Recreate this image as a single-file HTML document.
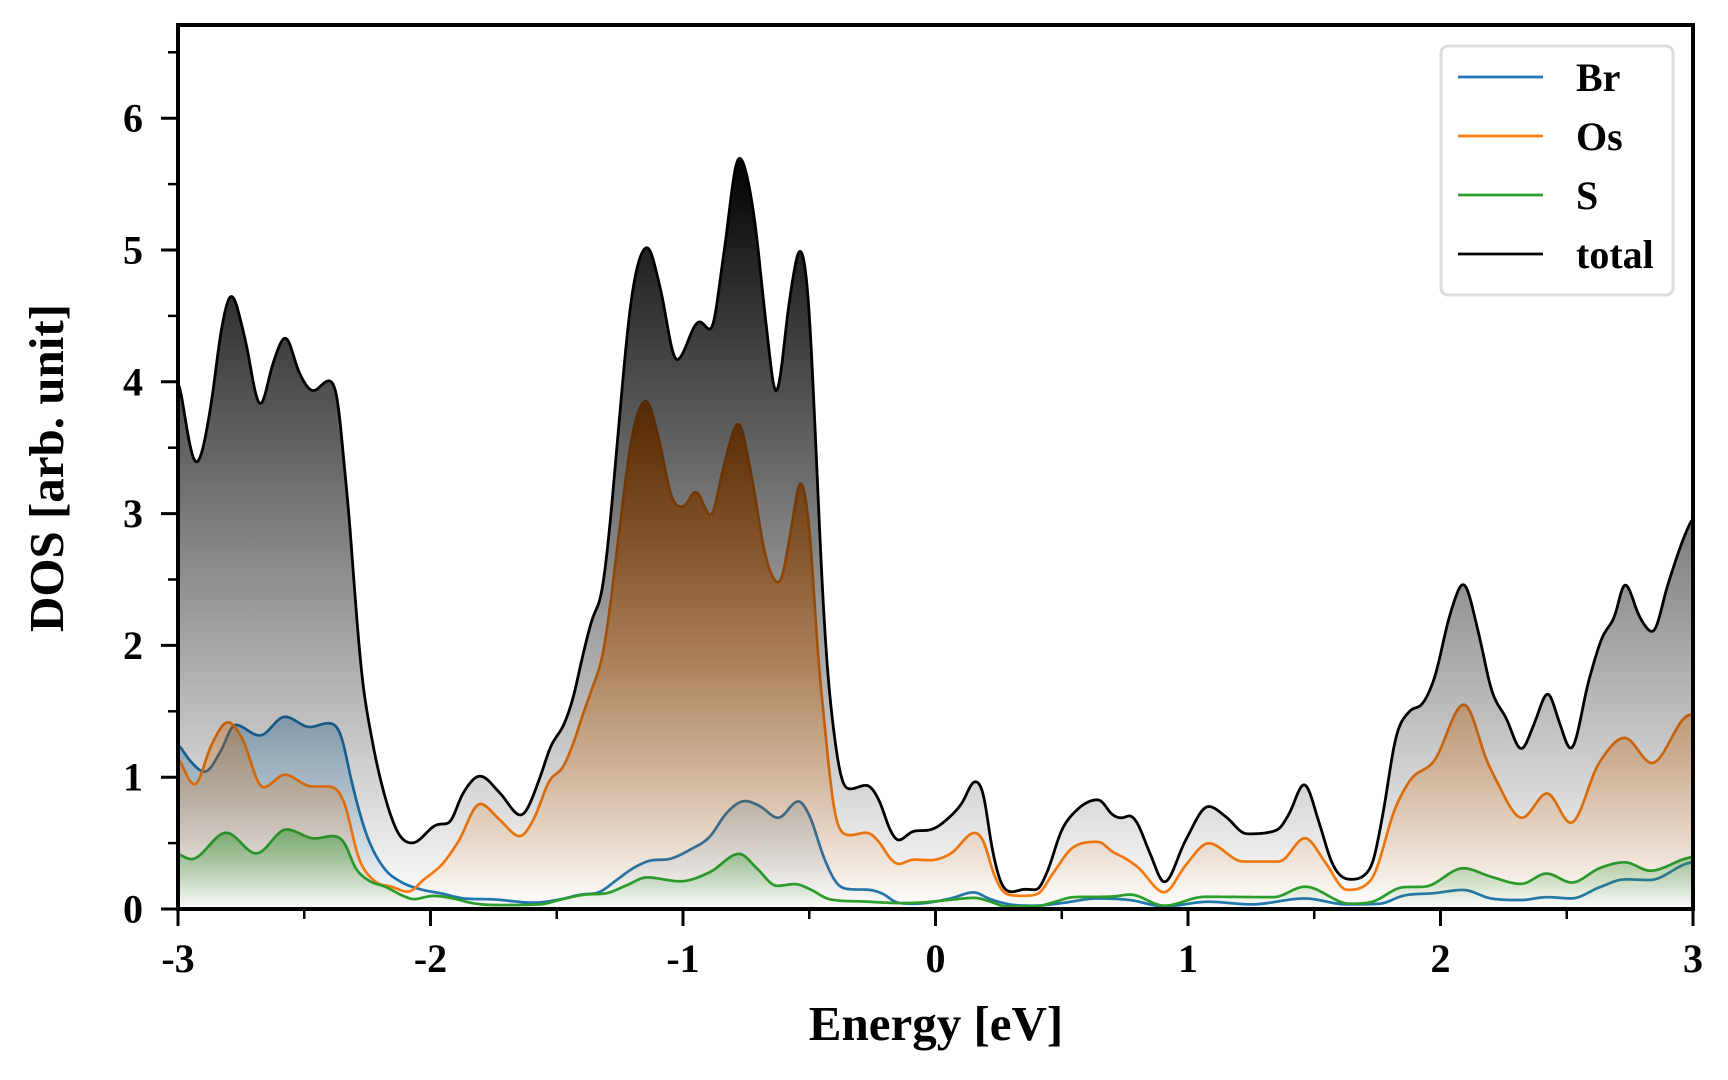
<!DOCTYPE html>
<html>
<head>
<meta charset="utf-8">
<style>
html,body{margin:0;padding:0;background:#fff;}
svg{display:block;}
text{font-family:"Liberation Serif","Times New Roman",serif;font-weight:bold;fill:#000;}
</style>
</head>
<body>
<svg id="chart" width="1728" height="1080" viewBox="0 0 1728 1080" xmlns="http://www.w3.org/2000/svg">
<defs>
  <clipPath id="axclip"><rect x="178" y="25" width="1515" height="884"/></clipPath>
  <linearGradient id="gBr" gradientUnits="userSpaceOnUse" x1="0" y1="909" x2="0" y2="381.8">
    <stop offset="0" stop-color="#1f77b4" stop-opacity="0"/>
    <stop offset="1" stop-color="#1f77b4" stop-opacity="1"/>
  </linearGradient>
  <linearGradient id="gOs" gradientUnits="userSpaceOnUse" x1="0" y1="909" x2="0" y2="400.3">
    <stop offset="0" stop-color="#ff7f0e" stop-opacity="0"/>
    <stop offset="1" stop-color="#ff7f0e" stop-opacity="1"/>
  </linearGradient>
  <linearGradient id="gS" gradientUnits="userSpaceOnUse" x1="0" y1="909" x2="0" y2="750.8">
    <stop offset="0" stop-color="#2ca02c" stop-opacity="0"/>
    <stop offset="1" stop-color="#2ca02c" stop-opacity="1"/>
  </linearGradient>
  <linearGradient id="gT" gradientUnits="userSpaceOnUse" x1="0" y1="909" x2="0" y2="155.1">
    <stop offset="0" stop-color="#000" stop-opacity="0"/>
    <stop offset="1" stop-color="#000" stop-opacity="1"/>
  </linearGradient>
</defs>

<g clip-path="url(#axclip)">
  <path id="lBr" d="" fill="none" stroke="#1f77b4" stroke-width="2.7" stroke-linejoin="round"/>
  <path id="fBr" d="" fill="url(#gBr)" stroke="none"/>
  <path id="lOs" d="" fill="none" stroke="#ff7f0e" stroke-width="2.7" stroke-linejoin="round"/>
  <path id="fOs" d="" fill="url(#gOs)" stroke="none"/>
  <path id="lS" d="" fill="none" stroke="#2ca02c" stroke-width="2.7" stroke-linejoin="round"/>
  <path id="fS" d="" fill="url(#gS)" stroke="none"/>
  <path id="lT" d="" fill="none" stroke="#000" stroke-width="2.8" stroke-linejoin="round"/>
  <path id="fT" d="" fill="url(#gT)" stroke="none"/>
</g>

<!-- y ticks -->
<g stroke="#000" stroke-width="3">
  <line x1="161" y1="909" x2="178" y2="909"/>
  <line x1="161" y1="777.2" x2="178" y2="777.2"/>
  <line x1="161" y1="645.4" x2="178" y2="645.4"/>
  <line x1="161" y1="513.6" x2="178" y2="513.6"/>
  <line x1="161" y1="381.8" x2="178" y2="381.8"/>
  <line x1="161" y1="250" x2="178" y2="250"/>
  <line x1="161" y1="118.2" x2="178" y2="118.2"/>
</g>
<g stroke="#000" stroke-width="2.5">
  <line x1="168" y1="843.1" x2="178" y2="843.1"/>
  <line x1="168" y1="711.3" x2="178" y2="711.3"/>
  <line x1="168" y1="579.5" x2="178" y2="579.5"/>
  <line x1="168" y1="447.7" x2="178" y2="447.7"/>
  <line x1="168" y1="315.9" x2="178" y2="315.9"/>
  <line x1="168" y1="184.1" x2="178" y2="184.1"/>
  <line x1="168" y1="52.3" x2="178" y2="52.3"/>
</g>
<!-- x ticks -->
<g stroke="#000" stroke-width="3">
  <line x1="178" y1="909" x2="178" y2="926"/>
  <line x1="430.5" y1="909" x2="430.5" y2="926"/>
  <line x1="683" y1="909" x2="683" y2="926"/>
  <line x1="935.5" y1="909" x2="935.5" y2="926"/>
  <line x1="1188" y1="909" x2="1188" y2="926"/>
  <line x1="1440.5" y1="909" x2="1440.5" y2="926"/>
  <line x1="1693" y1="909" x2="1693" y2="926"/>
</g>
<g stroke="#000" stroke-width="2.5">
  <line x1="304.25" y1="909" x2="304.25" y2="919"/>
  <line x1="556.75" y1="909" x2="556.75" y2="919"/>
  <line x1="809.25" y1="909" x2="809.25" y2="919"/>
  <line x1="1061.75" y1="909" x2="1061.75" y2="919"/>
  <line x1="1314.25" y1="909" x2="1314.25" y2="919"/>
  <line x1="1566.75" y1="909" x2="1566.75" y2="919"/>
</g>

<!-- frame -->
<rect x="178" y="25" width="1515" height="884" fill="none" stroke="#000" stroke-width="4"/>

<!-- y tick labels -->
<g font-size="40" text-anchor="end">
  <text x="143" y="922.5">0</text>
  <text x="143" y="790.7">1</text>
  <text x="143" y="658.9">2</text>
  <text x="143" y="527.1">3</text>
  <text x="143" y="395.3">4</text>
  <text x="143" y="263.5">5</text>
  <text x="143" y="131.7">6</text>
</g>
<!-- x tick labels -->
<g font-size="40" text-anchor="middle">
  <text x="178" y="972">-3</text>
  <text x="430.5" y="972">-2</text>
  <text x="683" y="972">-1</text>
  <text x="935.5" y="972">0</text>
  <text x="1188" y="972">1</text>
  <text x="1440.5" y="972">2</text>
  <text x="1693" y="972">3</text>
</g>

<!-- axis labels -->
<text x="936" y="1040" font-size="49" text-anchor="middle">Energy [eV]</text>
<text transform="translate(63,468) rotate(-90)" font-size="49" text-anchor="middle">DOS [arb. unit]</text>

<!-- legend -->
<rect x="1441" y="46" width="232" height="249" rx="7" ry="7" fill="#fff" fill-opacity="0.9" stroke="#dcdcdc" stroke-width="3"/>
<g stroke-width="2.7">
  <line x1="1458" y1="77" x2="1543" y2="77" stroke="#1f77b4"/>
  <line x1="1458" y1="136" x2="1543" y2="136" stroke="#ff7f0e"/>
  <line x1="1458" y1="195" x2="1543" y2="195" stroke="#2ca02c"/>
  <line x1="1458" y1="254" x2="1543" y2="254" stroke="#000"/>
</g>
<g font-size="40">
  <text x="1576" y="91">Br</text>
  <text x="1576" y="150">Os</text>
  <text x="1576" y="209">S</text>
  <text x="1576" y="268">total</text>
</g>
</svg>

<script>
(function(){
const X = x => 178 + (x+3)*252.5;
const Y = y => 909 - y*131.8;

const T = [[-3.00,4.04],[-2.927,3.38],[-2.868,3.84],[-2.829,4.39],[-2.789,4.66],[-2.736,4.34],[-2.674,3.82],[-2.624,4.14],[-2.575,4.34],[-2.518,4.06],[-2.465,3.93],[-2.403,4.01],[-2.366,3.84],[-2.34,3.33],[-2.324,3.02],[-2.30,2.4],[-2.274,1.81],[-2.234,1.31],[-2.18,0.85],[-2.128,0.575],[-2.072,0.50],[-1.975,0.64],[-1.929,0.65],[-1.871,0.88],[-1.804,1.01],[-1.725,0.88],[-1.643,0.71],[-1.566,1.00],[-1.527,1.22],[-1.467,1.42],[-1.434,1.61],[-1.401,1.89],[-1.36,2.2],[-1.32,2.42],[-1.29,2.9],[-1.263,3.48],[-1.203,4.65],[-1.141,5.025],[-1.091,4.72],[-1.025,4.16],[-0.935,4.46],[-0.89,4.39],[-0.84,4.95],[-0.778,5.71],[-0.72,5.28],[-0.668,4.39],[-0.632,3.90],[-0.576,4.65],[-0.537,5.01],[-0.504,4.65],[-0.473,3.48],[-0.45,2.5],[-0.431,1.89],[-0.405,1.38],[-0.371,0.98],[-0.339,0.91],[-0.273,0.94],[-0.22,0.81],[-0.18,0.60],[-0.147,0.52],[-0.088,0.59],[-0.022,0.60],[0.057,0.70],[0.104,0.80],[0.156,0.97],[0.189,0.88],[0.223,0.47],[0.255,0.22],[0.302,0.13],[0.354,0.15],[0.40,0.145],[0.44,0.27],[0.50,0.60],[0.559,0.75],[0.645,0.83],[0.704,0.71],[0.737,0.69],[0.77,0.71],[0.79,0.68],[0.85,0.42],[0.906,0.20],[0.99,0.52],[1.081,0.78],[1.15,0.70],[1.232,0.57],[1.354,0.60],[1.40,0.72],[1.460,0.95],[1.52,0.65],[1.57,0.35],[1.642,0.225],[1.725,0.32],[1.77,0.7],[1.824,1.31],[1.877,1.50],[1.930,1.56],[1.974,1.74],[2.04,2.25],[2.09,2.47],[2.15,2.10],[2.202,1.66],[2.26,1.45],[2.32,1.21],[2.37,1.40],[2.425,1.64],[2.47,1.42],[2.516,1.21],[2.588,1.74],[2.64,2.06],[2.69,2.22],[2.73,2.47],[2.79,2.21],[2.84,2.10],[2.90,2.46],[2.96,2.8],[3.00,2.98]];

const OS = [[-3.00,1.155],[-2.934,0.94],[-2.868,1.244],[-2.802,1.42],[-2.75,1.31],[-2.663,0.92],[-2.577,1.02],[-2.472,0.93],[-2.40,0.93],[-2.34,0.80],[-2.287,0.40],[-2.22,0.21],[-2.155,0.17],[-2.088,0.13],[-2.029,0.22],[-1.949,0.35],[-1.89,0.51],[-1.804,0.80],[-1.725,0.675],[-1.646,0.55],[-1.593,0.675],[-1.527,0.98],[-1.474,1.08],[-1.434,1.26],[-1.395,1.485],[-1.355,1.70],[-1.322,1.89],[-1.25,2.9],[-1.21,3.5],[-1.146,3.86],[-1.10,3.6],[-1.04,3.1],[-1.00,3.05],[-0.95,3.17],[-0.89,2.98],[-0.84,3.35],[-0.78,3.69],[-0.73,3.3],[-0.67,2.65],[-0.62,2.47],[-0.57,2.9],[-0.535,3.25],[-0.50,2.9],[-0.464,1.89],[-0.438,1.38],[-0.411,0.88],[-0.385,0.625],[-0.339,0.56],[-0.273,0.58],[-0.22,0.50],[-0.18,0.385],[-0.147,0.34],[-0.088,0.375],[-0.022,0.37],[0.06,0.42],[0.156,0.58],[0.189,0.52],[0.23,0.27],[0.28,0.114],[0.347,0.10],[0.405,0.114],[0.465,0.27],[0.546,0.47],[0.645,0.51],[0.704,0.43],[0.737,0.40],[0.80,0.32],[0.906,0.125],[0.99,0.33],[1.081,0.50],[1.217,0.36],[1.362,0.36],[1.463,0.54],[1.545,0.35],[1.627,0.145],[1.725,0.22],[1.824,0.78],[1.877,0.97],[1.974,1.12],[2.093,1.555],[2.188,1.105],[2.22,0.98],[2.323,0.69],[2.422,0.88],[2.516,0.65],[2.627,1.105],[2.73,1.30],[2.837,1.105],[2.98,1.47],[3.0,1.48]];

const BR = [[-3.00,1.257],[-2.95,1.12],[-2.894,1.04],[-2.83,1.2],[-2.775,1.40],[-2.676,1.315],[-2.577,1.46],[-2.478,1.38],[-2.406,1.41],[-2.353,1.31],[-2.314,0.98],[-2.26,0.6],[-2.18,0.3],[-2.121,0.21],[-2.041,0.15],[-1.962,0.12],[-1.857,0.078],[-1.751,0.073],[-1.593,0.048],[-1.487,0.073],[-1.408,0.108],[-1.329,0.13],[-1.263,0.22],[-1.197,0.31],[-1.131,0.367],[-1.052,0.38],[-0.972,0.45],[-0.893,0.55],[-0.827,0.73],[-0.754,0.82],[-0.695,0.78],[-0.623,0.69],[-0.543,0.82],[-0.497,0.70],[-0.444,0.40],[-0.391,0.195],[-0.339,0.15],[-0.26,0.145],[-0.207,0.114],[-0.154,0.05],[-0.088,0.04],[0.06,0.08],[0.152,0.127],[0.21,0.08],[0.28,0.04],[0.39,0.025],[0.50,0.045],[0.64,0.08],[0.77,0.068],[0.906,0.02],[1.08,0.055],[1.25,0.035],[1.463,0.08],[1.627,0.035],[1.76,0.04],[1.85,0.10],[1.974,0.12],[2.09,0.145],[2.2,0.08],[2.32,0.068],[2.42,0.09],[2.52,0.08],[2.63,0.165],[2.73,0.225],[2.83,0.22],[2.985,0.35],[3.0,0.355]];

const SS = [[-3.00,0.42],[-2.947,0.377],[-2.809,0.58],[-2.69,0.42],[-2.571,0.605],[-2.459,0.535],[-2.386,0.554],[-2.34,0.50],[-2.30,0.32],[-2.248,0.22],[-2.18,0.17],[-2.10,0.093],[-2.068,0.074],[-1.989,0.10],[-1.91,0.08],[-1.83,0.043],[-1.725,0.03],[-1.566,0.035],[-1.487,0.07],[-1.395,0.108],[-1.302,0.12],[-1.223,0.18],[-1.144,0.24],[-1.012,0.21],[-0.893,0.28],[-0.777,0.42],[-0.708,0.31],[-0.629,0.175],[-0.556,0.19],[-0.497,0.15],[-0.418,0.073],[-0.273,0.056],[-0.141,0.045],[-0.05,0.05],[0.06,0.07],[0.156,0.085],[0.21,0.06],[0.28,0.02],[0.40,0.02],[0.465,0.05],[0.546,0.09],[0.704,0.095],[0.77,0.11],[0.906,0.025],[1.066,0.093],[1.34,0.09],[1.463,0.17],[1.64,0.04],[1.73,0.055],[1.85,0.165],[1.94,0.17],[2.09,0.31],[2.2,0.245],[2.32,0.19],[2.42,0.27],[2.52,0.2],[2.63,0.31],[2.73,0.355],[2.83,0.29],[2.985,0.39],[3.0,0.395]];

function spline(pts){
  const n=pts.length, xs=pts.map(p=>p[0]), ys=pts.map(p=>p[1]);
  const d=[], m=new Array(n);
  for(let i=0;i<n-1;i++) d.push((ys[i+1]-ys[i])/(xs[i+1]-xs[i]));
  m[0]=d[0]; m[n-1]=d[n-2];
  for(let i=1;i<n-1;i++){
    if(d[i-1]*d[i]<=0) m[i]=0;
    else{
      const h0=xs[i]-xs[i-1], h1=xs[i+1]-xs[i];
      // three-point derivative (smooth), limited to avoid overshoot
      let t=(d[i-1]*h1+d[i]*h0)/(h0+h1);
      const lim=3*Math.min(Math.abs(d[i-1]),Math.abs(d[i]));
      if(Math.abs(t)>lim) t=Math.sign(t)*lim;
      m[i]=t;
    }
  }
  return function(x){
    let i=0; while(i<n-2 && x>xs[i+1]) i++;
    const h=xs[i+1]-xs[i], t=(x-xs[i])/h, t2=t*t, t3=t2*t;
    return (2*t3-3*t2+1)*ys[i]+(t3-2*t2+t)*h*m[i]+(-2*t3+3*t2)*ys[i+1]+(t3-t2)*h*m[i+1];
  };
}
function build(pts, lid, fid){
  const f=spline(pts);
  const N=1515, raw=[];
  for(let k=0;k<=N;k++){ raw.push(f(-3+6*k/N)); }
  // light gaussian smoothing (sigma ~2px)
  const sig=2, R=6, w=[];
  let ws=0; for(let j=-R;j<=R;j++){ const v=Math.exp(-j*j/(2*sig*sig)); w.push(v); ws+=v; }
  const sm=raw.map((_,k)=>{
    let s=0, tw=0;
    for(let j=-R;j<=R;j++){ const q=k+j; if(q<0||q>N) continue; s+=raw[q]*w[j+R]; tw+=w[j+R]; }
    return s/tw;
  });
  let s="";
  for(let k=0;k<=N;k++){
    const x=-3+6*k/N;
    let y=sm[k]; if(y<0) y=0;
    s+=(k?"L":"M")+X(x).toFixed(2)+" "+Y(y).toFixed(2);
  }
  document.getElementById(lid).setAttribute("d", s);
  document.getElementById(fid).setAttribute("d", s+"L"+X(3)+" "+Y(0)+"L"+X(-3)+" "+Y(0)+"Z");
}
build(BR,"lBr","fBr");
build(OS,"lOs","fOs");
build(SS,"lS","fS");
build(T,"lT","fT");
})();
</script>
</body>
</html>
